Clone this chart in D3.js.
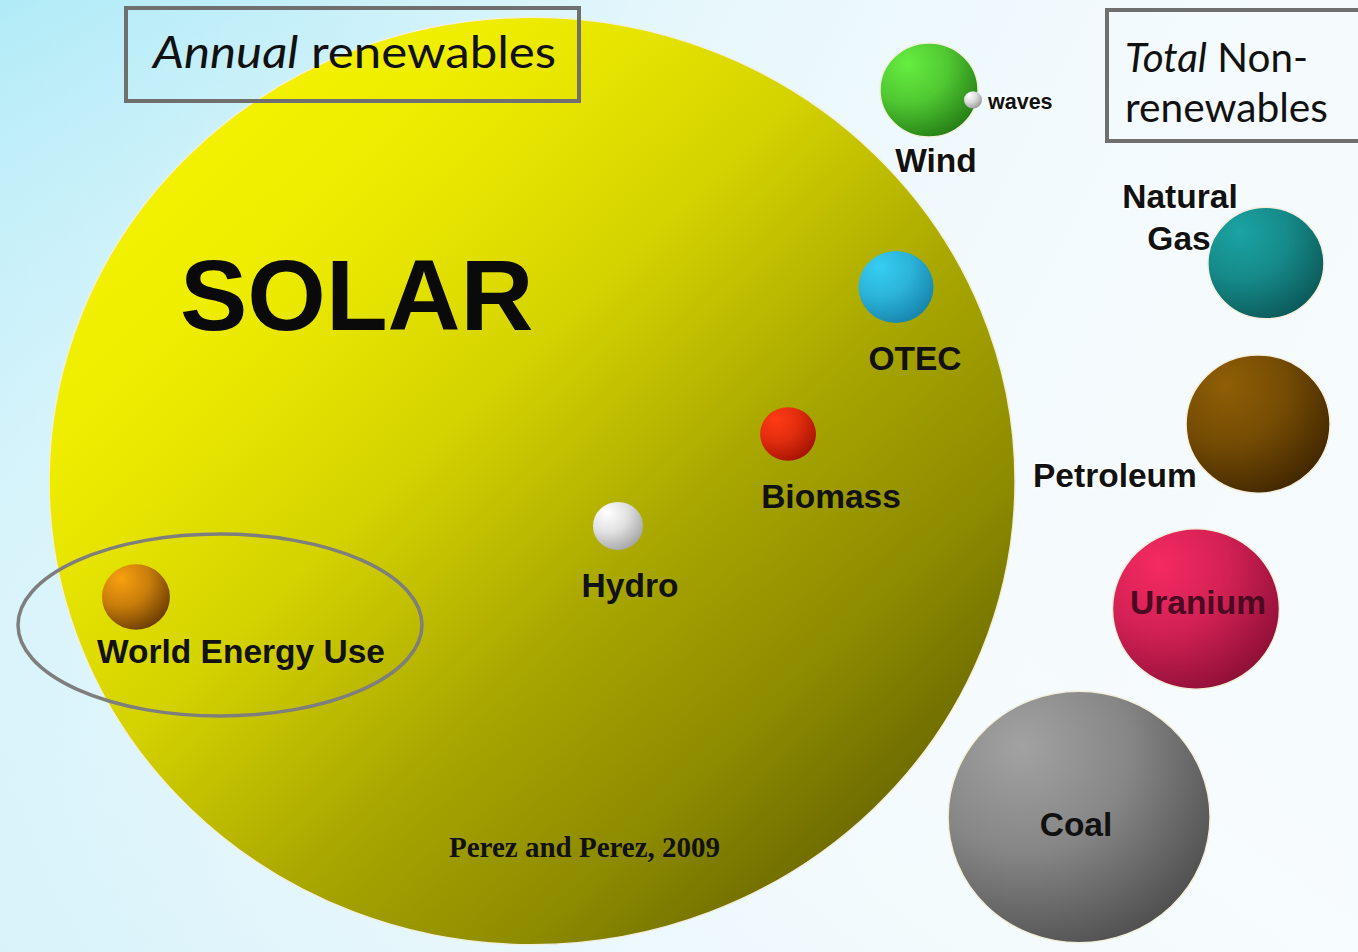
<!DOCTYPE html>
<html>
<head>
<meta charset="utf-8">
<script src="https://cdn.jsdelivr.net/npm/d3@7/dist/d3.min.js"></script>
<style>
  html, body { margin: 0; padding: 0; background: #fff; }
  svg { display: block; }
</style>
</head>
<body>
<svg id="chart" width="1358" height="952"></svg>
<script>
// ---------- DATA ----------
const sources   = ["Solar", "Wind", "Waves", "OTEC", "Biomass", "Hydro", "World Energy Use", "Natural Gas", "Petroleum", "Uranium", "Coal"];
const groups    = ["annual", "annual", "annual", "annual", "annual", "annual", "use", "total", "total", "total", "total"];
// relative size (area)
const values    = [23000, 237, 8, 139, 77, 62, 114, 332, 511, 687, 1692];
// layout position of each bubble centre, in % of width / height
const posX      = [39.18, 68.41, 71.65, 65.98, 58.03, 45.51, 10.01, 93.22, 92.64, 88.07, 79.46];
const posY      = [50.53, 9.45, 10.50, 30.15, 45.59, 55.25, 62.71, 27.63, 44.54, 63.97, 85.82];
const labelText = ["SOLAR", "Wind", "waves", "OTEC", "Biomass", "Hydro", "World Energy Use", "Natural\nGas", "Petroleum", "Uranium", "Coal"];
const titles    = ["Annual|renewables", "Total|Non-\nrenewables"];
const source    = "Perez and Perez, 2009";

// ---------- STYLE ----------
const W = 1358, H = 952;
const light = ["#f6f600", "#66ee40", "#ffffff", "#36cdf2", "#ff3a14", "#ffffff", "#f8a010", "#1ba3a3", "#8f5f06", "#f52a62", "#a2a2a2"];
const dark  = ["#5e5c00", "#1c7010", "#8a8a8a", "#137ba3", "#9a0e00", "#9a9a9a", "#5a3000", "#0a5050", "#382000", "#820c32", "#464646"];
const aspect = 0.96;

const svg = d3.select("#chart");
const defs = svg.append("defs");

const x = d3.scaleLinear().domain([0, 100]).range([0, W]);
const y = d3.scaleLinear().domain([0, 100]).range([0, H]);
const r = d3.scaleSqrt().domain([0, d3.max(values)]).range([0, 483]);

// background
const bg = defs.append("linearGradient").attr("id", "bg")
  .attr("x1", "0").attr("y1", "0").attr("x2", "1").attr("y2", "0.35");
[[0, "#a4e8f6"], [0.18, "#c3eff9"], [0.45, "#e6f7fc"], [0.75, "#f3fafd"], [1, "#f6fbfd"]]
  .forEach(s => bg.append("stop").attr("offset", s[0]).attr("stop-color", s[1]));
svg.append("rect").attr("width", W).attr("height", H).attr("fill", "url(#bg)");
const bg2 = defs.append("linearGradient").attr("id", "bg2")
  .attr("x1", "0").attr("y1", "1").attr("x2", "0.6").attr("y2", "0.4");
[[0, "#d8f2fa", 0.9], [1, "#ffffff", 0]]
  .forEach(s => bg2.append("stop").attr("offset", s[0]).attr("stop-color", s[1]).attr("stop-opacity", s[2]));
svg.append("rect").attr("width", W).attr("height", H).attr("fill", "url(#bg2)");

// gradients
sources.forEach((s, i) => {
  if (i === 0) {
    const g = defs.append("linearGradient").attr("id", "g0")
      .attr("x1", "0").attr("y1", "0").attr("x2", "1").attr("y2", "1");
    [[0, "#f8f800"], [0.22, "#f0ee00"], [0.3, "#e8e600"], [0.43, "#d4d200"],
     [0.6, "#a8a600"], [0.75, "#8c8a00"], [0.86, "#6e6c00"], [1, "#555300"]]
      .forEach(st => g.append("stop").attr("offset", st[0]).attr("stop-color", st[1]));
    return;
  }
  const g = defs.append("radialGradient").attr("id", "g" + i)
    .attr("cx", "0.3").attr("cy", "0.25").attr("r", "0.9")
    .attr("fx", "0.28").attr("fy", "0.22");
  g.append("stop").attr("offset", 0).attr("stop-color", light[i]);
  g.append("stop").attr("offset", 0.45).attr("stop-color", d3.interpolateRgb(light[i], dark[i])(0.3));
  g.append("stop").attr("offset", 1).attr("stop-color", dark[i]);
});

// bubbles (big first)
const order = d3.range(sources.length).sort((a, b) => values[b] - values[a]);
svg.append("g").selectAll("ellipse").data(order).join("ellipse")
  .attr("cx", i => x(posX[i]))
  .attr("cy", i => y(posY[i]))
  .attr("rx", i => r(values[i]))
  .attr("ry", i => r(values[i]) * aspect)
  .attr("fill", i => `url(#g${i})`)
  .attr("stroke", i => (groups[i] === "total" || i === 1 || i === 0) ? "#f2efdc" : "none")
  .attr("stroke-width", 1.5);

// titles boxes
const box = svg.append("g");
box.append("rect").attr("x", 126).attr("y", 8).attr("width", 453).attr("height", 93)
  .attr("fill", "none").attr("stroke", "#6f6f6f").attr("stroke-width", 4);
box.append("rect").attr("x", 1107).attr("y", 10).attr("width", 260).attr("height", 131)
  .attr("fill", "none").attr("stroke", "#6f6f6f").attr("stroke-width", 4);

const tfont = "Lato, 'Open Sans', sans-serif";
const t1 = titles[0].split("|");
const a = box.append("text").attr("x", 153).attr("y", 68)
  .attr("font-family", tfont).attr("font-size", 45).attr("fill", "#111")
  .attr("textLength", 403).attr("lengthAdjust", "spacingAndGlyphs");
a.append("tspan").attr("font-style", "italic").text(t1[0]);
a.append("tspan").text(" " + t1[1]);

const t2 = titles[1].split("|");
const l2 = t2[1].split("\n");
const b1 = box.append("text").attr("x", 1125).attr("y", 72)
  .attr("font-family", tfont).attr("font-size", 41).attr("fill", "#111")
  .attr("textLength", 183).attr("lengthAdjust", "spacingAndGlyphs");
b1.append("tspan").attr("font-style", "italic").text(t2[0]);
b1.append("tspan").text(" " + l2[0]);
box.append("text").attr("x", 1125).attr("y", 122)
  .attr("font-family", tfont).attr("font-size", 41).attr("fill", "#111")
  .attr("textLength", 203).attr("lengthAdjust", "spacingAndGlyphs")
  .text(l2[1]);

// ellipse highlight around World Energy Use
svg.append("ellipse").attr("cx", 220).attr("cy", 625).attr("rx", 202).attr("ry", 91)
  .attr("fill", "none").attr("stroke", "#7e7e7e").attr("stroke-width", 3.5);

// labels
const lfont = "'Liberation Sans', Arial, sans-serif";
const lab = svg.append("g").attr("font-family", lfont).attr("font-weight", "bold");

// SOLAR
lab.append("text").attr("x", 180).attr("y", 330).attr("font-size", 101)
  .attr("fill", "#0a0a0a").text(labelText[0]);

const labelPos = [
  null,
  [936, 172, "middle", 33.5],
  [988, 109, "start", 21.5],
  [915, 370, "middle", 33.5],
  [831, 508, "middle", 33.5],
  [630, 597, "middle", 33.5],
  [97, 663, "start", 33.5],
  [1180, 208, "middle", 33.5],
  [1033, 487, "start", 33.5],
  [1198, 614, "middle", 33.5],
  [1076, 836, "middle", 33.5]
];
const halo = [false, true, true, false, false, false, false, true, true, false, false];
labelText.forEach((t, i) => {
  if (i === 0) return;
  const p = labelPos[i];
  const lines = t.split("\n");
  lines.forEach((ln, k) => {
    const tx = lab.append("text")
      .attr("x", p[0] - (k === 1 ? 1 : 0)).attr("y", p[1] + k * 42)
      .attr("text-anchor", p[2]).attr("font-size", p[3])
      .attr("fill", i === 9 ? "#4a0a22" : "#111")
      .text(ln);
    if (halo[i]) {
      tx.attr("stroke", "rgba(255,255,255,0.85)").attr("stroke-width", 3)
        .attr("paint-order", "stroke").attr("stroke-linejoin", "round");
    }
  });
});

// source
svg.append("text").attr("x", 449).attr("y", 857)
  .attr("font-family", "'Liberation Serif', 'Times New Roman', serif")
  .attr("font-weight", "bold").attr("font-size", 29).attr("fill", "#111")
  .text(source);
</script>
</body>
</html>
